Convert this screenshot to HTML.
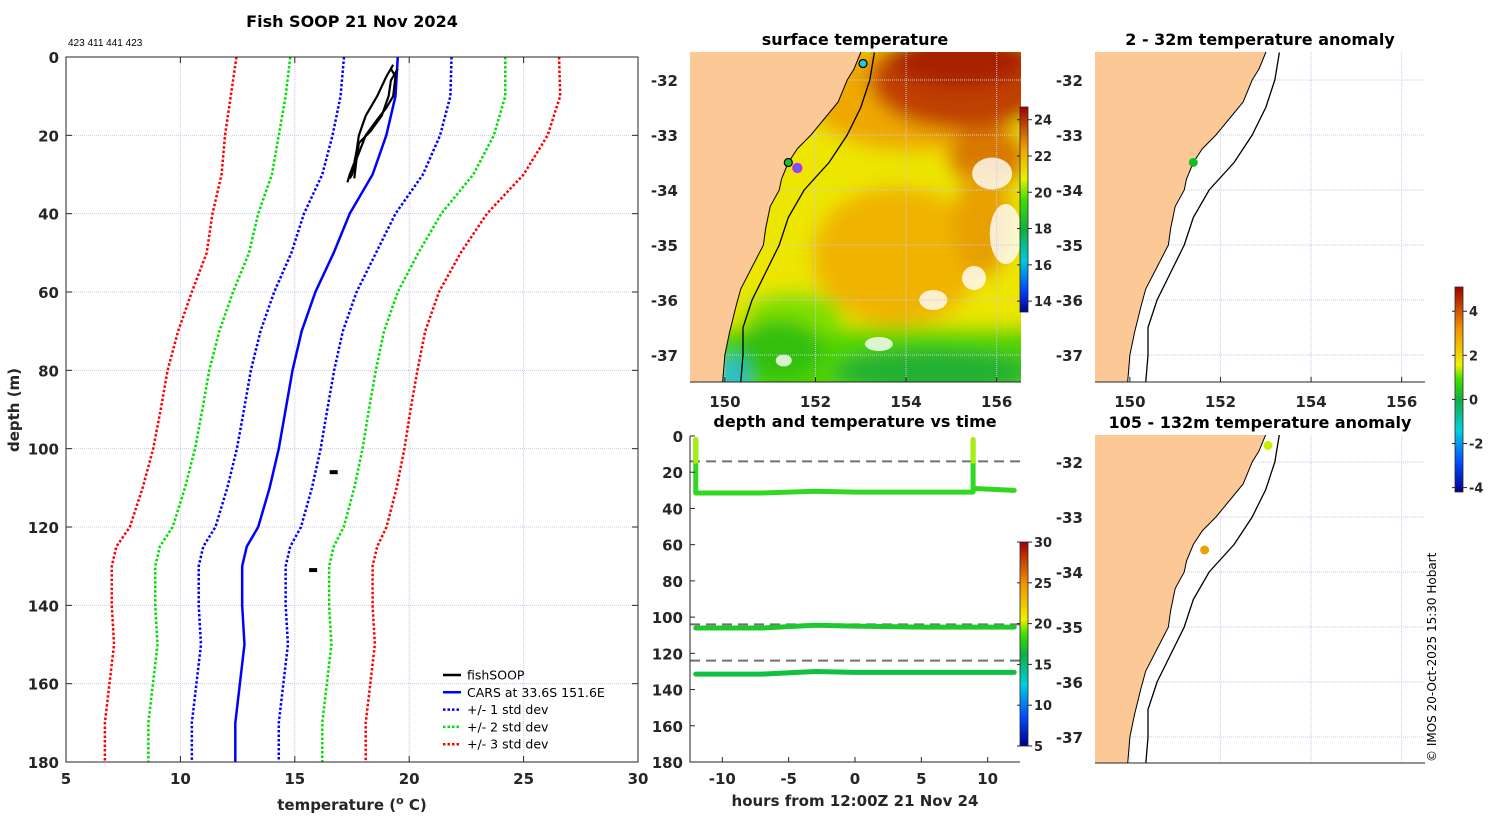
<!DOCTYPE html>
<html><head><meta charset="utf-8">
<style>
html,body{margin:0;padding:0;background:#fff;}
svg{display:block;font-family:"DejaVu Sans","Liberation Sans",sans-serif;}
.tk{font-size:15px;font-weight:bold;fill:#262626;}
.ttl{font-size:16px;font-weight:bold;fill:#000;}
</style></head>
<body>
<svg id="fig" width="1500" height="820" viewBox="0 0 1500 820" xmlns="http://www.w3.org/2000/svg">
<defs>
<linearGradient id="sstcb" x1="0" y1="1" x2="0" y2="0">
<stop offset="0" stop-color="#00008f"/><stop offset="0.1" stop-color="#0040ff"/><stop offset="0.25" stop-color="#00c8e0"/><stop offset="0.4" stop-color="#10b040"/><stop offset="0.55" stop-color="#40e000"/><stop offset="0.65" stop-color="#e8f000"/><stop offset="0.8" stop-color="#f0a000"/><stop offset="1" stop-color="#a00000"/>
</linearGradient>
<linearGradient id="tcb" x1="0" y1="1" x2="0" y2="0">
<stop offset="0" stop-color="#00008f"/><stop offset="0.15" stop-color="#0050ff"/><stop offset="0.3" stop-color="#00d0e0"/><stop offset="0.45" stop-color="#10b040"/><stop offset="0.55" stop-color="#40e000"/><stop offset="0.62" stop-color="#f0f000"/><stop offset="0.8" stop-color="#f09000"/><stop offset="1" stop-color="#a00000"/>
</linearGradient>
<filter id="blur" x="-20%" y="-20%" width="140%" height="140%"><feGaussianBlur stdDeviation="9"/></filter>
<clipPath id="clipSST"><rect x="690" y="52" width="331" height="330"/></clipPath>
<clipPath id="clipA1"><rect x="1095" y="52" width="330" height="330"/></clipPath>
<clipPath id="clipA2"><rect x="1095" y="435" width="330" height="328"/></clipPath>
</defs>
</svg>
<script>
// ---------- data ----------
const profDepth = [0,10,20,30,40,50,60,70,80,90,100,110,120,125,130,140,150,160,170,180];
const carsMean  = [19.5,19.4,19.0,18.4,17.4,16.7,15.9,15.3,14.9,14.6,14.3,13.9,13.4,12.9,12.7,12.7,12.8,12.6,12.4,12.4];
const carsStd   = [2.35,2.4,2.35,2.2,2.0,1.85,1.8,1.8,1.82,1.82,1.83,1.85,1.87,1.9,1.9,1.9,1.9,1.9,1.9,1.9];
const fishT1 = [19.3,19.0,18.6,18.1,17.8,17.7,17.6,17.4,17.3];
const fishD1 = [2,5,10,15,20,24,27,30,32];
const fishT2 = [19.5,19.2,19.1,18.8,18.3,17.8,17.7,17.5,17.4];
const fishD2 = [3,6,10,15,19,22,26,30,31];
const fishT3 = [19.2,19.4,19.3,19.0,18.6,18.1,17.7,17.6];
const fishD3 = [3,5,10,13,16,20,26,31];
const blobT = [16.7,15.8];
const blobD = [106,131];
const xTicksL = [5,10,15,20,25,30];
const yTicks = [0,20,40,60,80,100,120,140,160,180];
// time series
const trackHours = [[-12,-12,-7,-3,0,5,8.9,8.9],[9,12],[-12,-7,-3,0,5,12],[-12,-7,-3,0,5,12]];
const trackDepth = [[2,31.5,31.5,30.5,31,31,31,2],[29,30],[106,106,104.5,105,105.5,105.5],[131.5,131.5,130,130.5,130.5,130.5]];
const binDepths = [14,104,124];
const hourTicks = [-10,-5,0,5,10];
// map
const coastLon = [153.0,152.85,152.7,152.5,152.2,151.9,151.6,151.4,151.25,151.2,151.0,150.9,150.85,150.6,150.35,150.25,150.1,150.0,149.95];
const coastLat = [-31.5,-31.8,-32.0,-32.4,-32.7,-33.0,-33.25,-33.5,-33.8,-34.0,-34.3,-34.7,-35.0,-35.4,-35.8,-36.1,-36.6,-37.0,-37.5];
const isoLon = [153.3,153.2,153.0,152.7,152.3,151.75,151.4,151.2,150.9,150.6,150.4,150.4,150.35];
const isoLat = [-31.5,-32.0,-32.5,-33.0,-33.5,-34.0,-34.5,-35.0,-35.5,-36.0,-36.5,-37.0,-37.5];
const lonTicks = [150,152,154,156];
const latTicks = [-32,-33,-34,-35,-36,-37];
const sstTicks = [14,16,18,20,22,24];
const tTicks = [5,10,15,20,25,30];
const anomTicks = [-4,-2,0,2,4];

const svg = document.getElementById('fig');
const NS = 'http://www.w3.org/2000/svg';
function mk(tag, attrs, parent, text){
  const e = document.createElementNS(NS, tag);
  for (const k in attrs) e.setAttribute(k, attrs[k]);
  if (text !== undefined) e.textContent = text;
  (parent || svg).appendChild(e);
  return e;
}
function grp(name){ const g = mk('g', {});   return g; }

// ---------- left profile plot ----------
const L = {x0:66,x1:638,y0:57,y1:762};
const lx = t => L.x0 + (t-5)/25*(L.x1-L.x0);
const ly = d => L.y0 + d/180*(L.y1-L.y0);
const gP = grp('profile-panel');
mk('text',{x:352,y:27,'text-anchor':'middle',class:'ttl'},gP,'Fish SOOP 21 Nov 2024');
mk('text',{x:68,y:46,'font-size':'10',fill:'#000','font-family':'Liberation Sans, sans-serif'},gP,'423 411 441 423');
mk('rect',{x:L.x0,y:L.y0,width:L.x1-L.x0,height:L.y1-L.y0,fill:'#fff'},gP);
const gGrid = grp('profile-grid'); gP.appendChild(gGrid);
xTicksL.forEach(t=>{ if(t>5&&t<30) mk('line',{x1:lx(t),x2:lx(t),y1:L.y0,y2:L.y1,stroke:'#c8c8f0','stroke-width':1,'stroke-dasharray':'1 1'},gGrid);});
yTicks.forEach(d=>{ if(d>0&&d<180) mk('line',{x1:L.x0,x2:L.x1,y1:ly(d),y2:ly(d),stroke:'#c8c8f0','stroke-width':1,'stroke-dasharray':'1 1'},gGrid);});
const stdCol = {1:'#0000ff',2:'#00e000',3:'#ff0000'};
[1,2,3].forEach(k=>{
  [-1,1].forEach(s=>{
    const pts = profDepth.map((d,i)=>lx(carsMean[i]+s*k*carsStd[i])+','+ly(d)).join(' ');
    const p = mk('polyline',{points:pts,fill:'none',stroke:stdCol[k],'stroke-width':2.5,'stroke-dasharray':'2.5 2'},gP);
    
    
  });
});
const cars = mk('polyline',{points:profDepth.map((d,i)=>lx(carsMean[i])+','+ly(d)).join(' '),fill:'none',stroke:'#0000ff','stroke-width':2.5},gP);


[[fishT1,fishD1],[fishT2,fishD2],[fishT3,fishD3]].forEach((f,j)=>{
  const p = mk('polyline',{points:f[0].map((t,i)=>lx(t)+','+ly(f[1][i])).join(' '),fill:'none',stroke:'#000','stroke-width':2.2},gP);
  
  
});
blobT.forEach((t,i)=>{
  const b = mk('rect',{x:lx(t)-4,y:ly(blobD[i])-2,width:8,height:4,fill:'#000'},gP);
  
  
});
mk('rect',{x:L.x0,y:L.y0,width:L.x1-L.x0,height:L.y1-L.y0,fill:'none',stroke:'#262626','stroke-width':1},gP);
xTicksL.forEach(t=>{
  mk('line',{x1:lx(t),x2:lx(t),y1:L.y1,y2:L.y1-6,stroke:'#262626'},gP);
  mk('line',{x1:lx(t),x2:lx(t),y1:L.y0,y2:L.y0+6,stroke:'#262626'},gP);
  mk('text',{x:lx(t),y:L.y1+22,'text-anchor':'middle',class:'tk'},gP,String(t));
});
yTicks.forEach(d=>{
  mk('line',{x1:L.x0,x2:L.x0+6,y1:ly(d),y2:ly(d),stroke:'#262626'},gP);
  mk('line',{x1:L.x1,x2:L.x1-6,y1:ly(d),y2:ly(d),stroke:'#262626'},gP);
  mk('text',{x:L.x0-7,y:ly(d)+6,'text-anchor':'end',class:'tk'},gP,String(d));
});
const xt = mk('text',{x:352,y:810,'text-anchor':'middle',class:'tk'},gP);
 
xt.innerHTML = 'temperature (<tspan dy="-6" font-size="11">o</tspan><tspan dy="6"> C)</tspan>';
const yt = mk('text',{x:19,y:410,'text-anchor':'middle',class:'tk',transform:'rotate(-90 19 410)'},gP,'depth (m)');
 
// legend
const gLeg = grp('legend'); gP.appendChild(gLeg);
const legItems = [['fishSOOP','#000',''],['CARS at 33.6S 151.6E','#0000ff',''],['+/- 1 std dev','#0000ff','2.5 2'],['+/- 2 std dev','#00e000','2.5 2'],['+/- 3 std dev','#ff0000','2.5 2']];
legItems.forEach((it,i)=>{
  const y = 675+i*17.3;
  const g = mk('g',{},gLeg);
   
  mk('line',{x1:443,x2:461,y1:y,y2:y,stroke:it[1],'stroke-width':2.5,'stroke-dasharray':it[2]||'none'},g);
  mk('text',{x:467,y:y+4.5,'font-size':'12.5',fill:'#000'},g,it[0]);
});

// ---------- map helpers ----------
function mapFns(x0,y0,latRefY){
  return {X: lon => x0 + (lon-149.23)*45.3, Y: lat => latRefY + (-32-lat)*55};
}
function drawMapBase(g, x0, y0, w, h, F, clipId, sst){
  const inner = mk('g',{'clip-path':'url(#'+clipId+')'},g);
  mk('rect',{x:x0,y:y0,width:w,height:h,fill:'#fff'},inner);
  if (sst){
    const gs = mk('g',{filter:'url(#blur)'},inner);
     
    mk('rect',{x:x0-30,y:y0-30,width:w+60,height:h+60,fill:'#ece600'},gs);
    mk('ellipse',{cx:F.X(154.2),cy:F.Y(-32.3),rx:110,ry:55,fill:'#eea800'},gs);
    mk('ellipse',{cx:F.X(155.3),cy:F.Y(-32.0),rx:95,ry:50,fill:'#c04000'},gs);
    mk('ellipse',{cx:F.X(155.2),cy:F.Y(-31.6),rx:70,ry:30,fill:'#a82000'},gs);
    mk('ellipse',{cx:F.X(155.8),cy:F.Y(-33.4),rx:40,ry:30,fill:'#d87800'},gs);
    mk('ellipse',{cx:F.X(153.8),cy:F.Y(-35.2),rx:85,ry:70,fill:'#f0b400'},gs);
    mk('ellipse',{cx:F.X(155.7),cy:F.Y(-34.6),rx:30,ry:55,fill:'#e8a000'},gs);
    mk('rect',{x:x0-30,y:F.Y(-36.5),width:w+60,height:200,fill:'#50d400'},gs);
    mk('ellipse',{cx:F.X(151.5),cy:F.Y(-36.3),rx:50,ry:25,fill:'#80e000'},gs);
    mk('ellipse',{cx:F.X(151.2),cy:F.Y(-36.9),rx:45,ry:30,fill:'#30c010'},gs);
    mk('ellipse',{cx:F.X(154.6),cy:F.Y(-37.3),rx:100,ry:22,fill:'#20b030'},gs);
    mk('ellipse',{cx:F.X(150.2),cy:F.Y(-37.4),rx:12,ry:20,fill:'#20b8e0'},gs);
    // cloud gaps
    [[155.9,-33.7,20,16],[156.2,-34.8,16,30],[155.5,-35.6,12,12],[154.6,-36.0,14,10],[153.4,-36.8,14,7],[151.3,-37.1,8,6]].forEach(c=>{
      mk('ellipse',{cx:F.X(c[0]),cy:F.Y(c[1]),rx:c[2],ry:c[3],fill:'#ffffff','opacity':0.8},inner);
    });
  }
  lonTicks.forEach(l=>mk('line',{x1:F.X(l),x2:F.X(l),y1:y0,y2:y0+h,stroke:'#c8c8f0','stroke-dasharray':'1 1'},inner));
  latTicks.forEach(l=>mk('line',{x1:x0,x2:x0+w,y1:F.Y(l),y2:F.Y(l),stroke:'#c8c8f0','stroke-dasharray':'1 1'},inner));
  let pts = coastLon.map((lo,i)=>F.X(lo)+','+F.Y(coastLat[i]));
  pts.push(x0-5+','+(y0+h+5)); pts.push(x0-5+','+(y0-5)); pts.push(F.X(coastLon[0])+','+(y0-5));
  const land = mk('polygon',{points:pts.join(' '),fill:'#fbc896',stroke:'#000','stroke-width':1},inner);
   
  mk('rect',{x:x0-6,y:y0-6,width:5,height:h+12,fill:'#fff'},inner);
  const iso = mk('polyline',{points:isoLon.map((lo,i)=>F.X(lo)+','+F.Y(isoLat[i])).join(' '),fill:'none',stroke:'#000','stroke-width':1.3},inner);
   
  return inner;
}
function mapAxes(g,x0,y0,w,h,F,showX){
  mk('line',{x1:x0,x2:x0+w,y1:y0+h,y2:y0+h,stroke:'#262626'},g);
  if(showX) lonTicks.forEach(l=>{
    mk('line',{x1:F.X(l),x2:F.X(l),y1:y0+h,y2:y0+h-5,stroke:'#262626'},g);
    mk('text',{x:F.X(l),y:y0+h+25,'text-anchor':'middle',class:'tk'},g,String(l));
  });
  latTicks.forEach(l=>mk('text',{x:x0-12,y:F.Y(l)+6,'text-anchor':'end',class:'tk'},g,String(l)));
}
function dot(g,lon,lat,F,fill,stroke,r,name){
  const c = mk('circle',{cx:F.X(lon),cy:F.Y(lat),r:r,fill:fill,stroke:stroke,'stroke-width':stroke==='none'?0:1.2},g);
   
}
function colorbar(g,x,y0,y1,grad,ticks,vmin,vmax,name){
  const cb = mk('g',{},g);  
  mk('rect',{x:x,y:y0,width:8,height:y1-y0,fill:'url(#'+grad+')',stroke:'#262626','stroke-width':0.8},cb);
  ticks.forEach(t=>{
    const y = y1 - (t-vmin)/(vmax-vmin)*(y1-y0);
    mk('line',{x1:x+8,x2:x+12,y1:y,y2:y,stroke:'#262626'},cb);
    mk('line',{x1:x,x2:x-3,y1:y,y2:y,stroke:'#262626'},cb);
    mk('text',{x:x+14,y:y+5,'font-size':'13','font-weight':'bold',fill:'#262626'},cb,String(t));
  });
}

// ---------- SST map ----------
const gS = grp('surface-temperature-map');
const FS = mapFns(690,52,80);
mk('text',{x:855,y:45,'text-anchor':'middle',class:'ttl'},gS,'surface temperature');
const innS = drawMapBase(gS,690,52,331,330,FS,'clipSST',true);
dot(innS,153.05,-31.7,FS,'#20c8e8','#000',4,'vessel-dot-cyan');
dot(innS,151.4,-33.5,FS,'#20c020','#000',4,'vessel-dot-green');
dot(innS,151.6,-33.6,FS,'#6060ff','#ff00ff',4.5,'cars-location-dot');
mapAxes(gS,690,52,331,330,FS,true);
colorbar(gS,1020,107,312,'sstcb',sstTicks,13.4,24.7,'sst-colorbar');

// ---------- depth vs time ----------
const T = {x0:690,x1:1020,y0:436,y1:762};
const tx = h => 855 + h*13.27;
const ty = d => T.y0 + d/180*(T.y1-T.y0);
const gT = grp('depth-time-panel');
mk('text',{x:855,y:427,'text-anchor':'middle',class:'ttl'},gT,'depth and temperature vs time');
binDepths.forEach(d=>{
  const l = mk('line',{x1:T.x0,x2:T.x1,y1:ty(d),y2:ty(d),stroke:'#707070','stroke-width':2,'stroke-dasharray':'10 6'},gT);
   
});
const trackCols = ['#30d820','#30d820','#20c830','#10c040'];
trackHours.forEach((hs,j)=>{
  const p = mk('polyline',{points:hs.map((h,i)=>tx(h)+','+ty(trackDepth[j][i])).join(' '),fill:'none',stroke:trackCols[j],'stroke-width':5,'stroke-linejoin':'round','stroke-linecap':'round'},gT);
  
  
});
[[-12,2,14],[8.9,2,14]].forEach(s=>mk('line',{x1:tx(s[0]),x2:tx(s[0]),y1:ty(s[1]),y2:ty(s[2]),stroke:'#a8ec10','stroke-width':5,'stroke-linecap':'round'},gT));
mk('polyline',{points:`${T.x0},${T.y0} ${T.x0},${T.y1} ${T.x1},${T.y1}`,fill:'none',stroke:'#262626'},gT);
hourTicks.forEach(h=>{
  mk('line',{x1:tx(h),x2:tx(h),y1:T.y1,y2:T.y1-5,stroke:'#262626'},gT);
  mk('text',{x:tx(h),y:T.y1+22,'text-anchor':'middle',class:'tk'},gT,String(h));
});
yTicks.forEach(d=>{
  mk('line',{x1:T.x0,x2:T.x0+5,y1:ty(d),y2:ty(d),stroke:'#262626'},gT);
  mk('text',{x:T.x0-7,y:ty(d)+6,'text-anchor':'end',class:'tk'},gT,String(d));
});
const tt = mk('text',{x:855,y:806,'text-anchor':'middle',class:'tk'},gT,'hours from 12:00Z 21 Nov 24');
 
colorbar(gT,1020,542,746,'tcb',tTicks,5,30,'temperature-colorbar');

// ---------- anomaly maps ----------
const gA1 = grp('anomaly-map-shallow');
const FA1 = mapFns(1095,52,80);
mk('text',{x:1260,y:45,'text-anchor':'middle',class:'ttl'},gA1,'2 - 32m temperature anomaly');
const inA1 = drawMapBase(gA1,1095,52,330,330,FA1,'clipA1',false);
dot(inA1,151.4,-33.5,FA1,'#10c020','none',4.5,'anomaly-dot-shallow');
mapAxes(gA1,1095,52,330,330,FA1,true);

const gA2 = grp('anomaly-map-deep');
const FA2 = mapFns(1095,435,462);
mk('text',{x:1260,y:428,'text-anchor':'middle',class:'ttl'},gA2,'105 - 132m temperature anomaly');
const inA2 = drawMapBase(gA2,1095,435,330,328,FA2,'clipA2',false);
dot(inA2,153.05,-31.7,FA2,'#c8f000','none',4.5,'anomaly-dot-deep-1');
dot(inA2,151.65,-33.6,FA2,'#f0a000','none',4.5,'anomaly-dot-deep-2');
mapAxes(gA2,1095,435,330,328,FA2,false);
colorbar(svg,1455,287,492,'tcb',anomTicks,-4.2,5.1,'anomaly-colorbar');

const cp = mk('text',{x:1436,y:762,'font-size':'12',fill:'#000',transform:'rotate(-90 1436 762)'},svg,'© IMOS 20-Oct-2025 15:30 Hobart');
 
</script>
</body></html>
